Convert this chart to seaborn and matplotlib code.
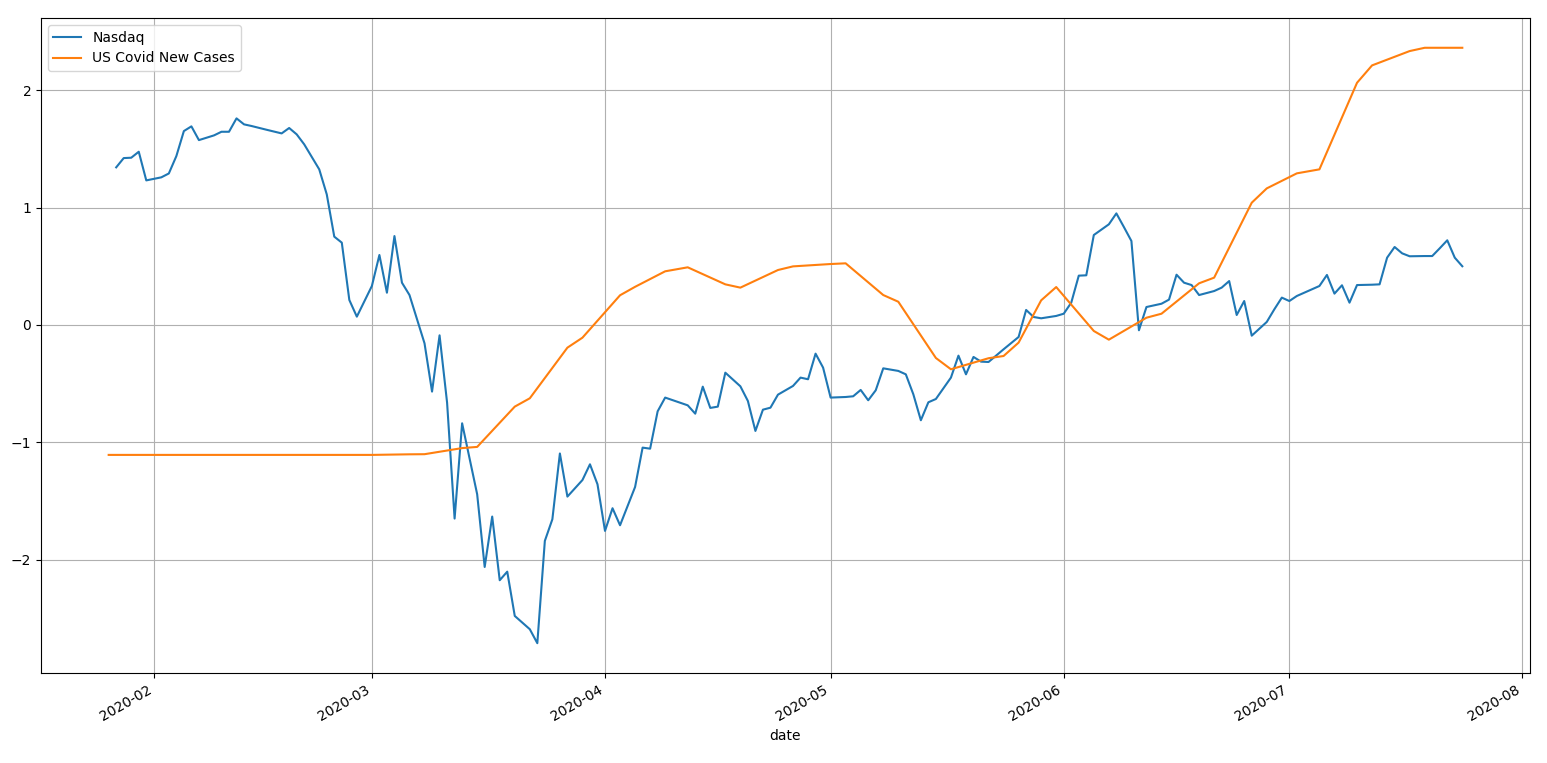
import numpy as np
import pandas as pd
import seaborn as sns
import matplotlib
matplotlib.use("Agg")
import matplotlib.pyplot as plt

# trading calendar (NYSE holidays in the window) + Sundays of the merged weekly frame
holidays = ["2020-02-17", "2020-04-10", "2020-05-25", "2020-07-03"]
trading_days = pd.bdate_range("2020-01-27", "2020-07-24", freq="C", holidays=holidays)
sundays = pd.date_range("2020-02-02", "2020-07-19", freq="W-SUN")
nasdaq_dates = trading_days.union(sundays)

# Nasdaq (standardised), week by week: Sunday first, then trading days
nasdaq = [
    1.342, 1.421, 1.424, 1.475, 1.231,
    1.257, 1.290, 1.438, 1.651, 1.691, 1.574,
    1.614, 1.645, 1.645, 1.759, 1.708, 1.694,
    1.662, 1.631, 1.677, 1.623, 1.538,
    1.325, 1.112, 0.752, 0.701, 0.213, 0.071,
    0.332, 0.596, 0.275, 0.757, 0.360, 0.255,
    -0.156, -0.567, -0.088, -0.661, -1.648, -0.837,
    -1.441, -2.060, -1.631, -2.173, -2.100, -2.477,
    -2.590, -2.709, -1.838, -1.654, -1.094, -1.461,
    -1.320, -1.186, -1.356, -1.753, -1.560, -1.705,
    -1.379, -1.044, -1.053, -0.735, -0.618,
    -0.684, -0.755, -0.525, -0.706, -0.695, -0.406,
    -0.522, -0.647, -0.902, -0.721, -0.704, -0.593,
    -0.519, -0.448, -0.462, -0.244, -0.363, -0.618,
    -0.613, -0.607, -0.553, -0.641, -0.556, -0.369,
    -0.391, -0.420, -0.590, -0.811, -0.658, -0.630,
    -0.448, -0.261, -0.420, -0.272, -0.312, -0.315,
    -0.207, -0.102, 0.128, 0.068, 0.057,
    0.077, 0.096, 0.190, 0.420, 0.423, 0.766,
    0.857, 0.950, 0.834, 0.715, -0.045, 0.153,
    0.181, 0.216, 0.428, 0.360, 0.340, 0.255,
    0.289, 0.318, 0.374, 0.085, 0.204, -0.091,
    0.026, 0.133, 0.233, 0.204, 0.247,
    0.332, 0.426, 0.267, 0.338, 0.190, 0.340,
    0.343, 0.346, 0.573, 0.664, 0.610, 0.585,
    0.587, 0.587, 0.653, 0.721, 0.573, 0.500,
]

# US covid new cases (standardised), values where the line bends
covid_dates = [
    "2020-01-26", "2020-03-01", "2020-03-06", "2020-03-08", "2020-03-13",
    "2020-03-15", "2020-03-20", "2020-03-22", "2020-03-27", "2020-03-29",
    "2020-04-03", "2020-04-05", "2020-04-09", "2020-04-12", "2020-04-17",
    "2020-04-19", "2020-04-24", "2020-04-26", "2020-05-01", "2020-05-03",
    "2020-05-08", "2020-05-10", "2020-05-15", "2020-05-17", "2020-05-22",
    "2020-05-24", "2020-05-26", "2020-05-29", "2020-05-31", "2020-06-05",
    "2020-06-07", "2020-06-12", "2020-06-14", "2020-06-19", "2020-06-21",
    "2020-06-26", "2020-06-28", "2020-07-02", "2020-07-05", "2020-07-10",
    "2020-07-12", "2020-07-17", "2020-07-19", "2020-07-24",
]
covid = [
    -1.106, -1.106, -1.101, -1.100, -1.048,
    -1.038, -0.695, -0.624, -0.193, -0.108,
    0.253, 0.325, 0.457, 0.491, 0.346,
    0.318, 0.468, 0.499, 0.519, 0.525,
    0.255, 0.198, -0.281, -0.377, -0.283,
    -0.264, -0.150, 0.210, 0.323, -0.051,
    -0.125, 0.062, 0.096, 0.355, 0.403,
    1.041, 1.163, 1.291, 1.325, 2.062,
    2.210, 2.332, 2.360, 2.360,
]

df_nasdaq = pd.DataFrame({"date": nasdaq_dates, "value": nasdaq})
df_covid = pd.DataFrame({"date": pd.to_datetime(covid_dates), "value": covid})

fig, ax = plt.subplots(figsize=(15.47, 7.63), dpi=100)
sns.lineplot(data=df_nasdaq, x="date", y="value", color="C0", label="Nasdaq", ax=ax)
sns.lineplot(data=df_covid, x="date", y="value", color="C1", label="US Covid New Cases", ax=ax)

ax.set_ylabel("")
ax.set_xlabel("date")
ax.grid(True)
ax.legend(loc="upper left")
fig.autofmt_xdate()
fig.subplots_adjust(left=0.0265, right=0.989, top=0.9764, bottom=0.118)
plt.savefig("out.png")
